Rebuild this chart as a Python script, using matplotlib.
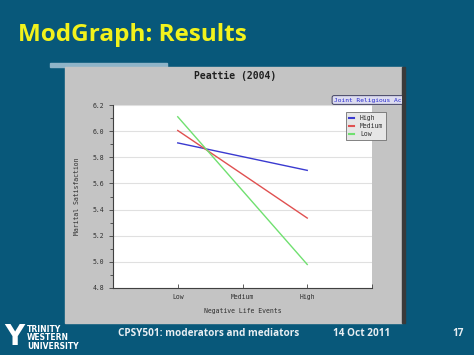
import matplotlib
matplotlib.use("Agg")
import matplotlib.pyplot as plt
from matplotlib.patches import Rectangle

# data
x_labels = ["Low", "Medium", "High"]
high_act = [5.91, 5.805, 5.70]
medium_act = [6.005, 5.67, 5.335]
low_act = [6.11, 5.545, 4.98]
series_names = ["High", "Medium", "Low"]
series_colors = ["#3a3ad0", "#e05050", "#70e070"]

W, H = 474, 355
BG = "#08587a"
PANEL = "#c4c4c4"
MONO = "DejaVu Sans Mono"

def fx(px):
    return px / W

def fy(py):
    return 1 - py / H

fig = plt.figure(figsize=(W / 100, H / 100), dpi=100, facecolor=BG)

# slide decorations (behind the axes)
fig.patches.append(Rectangle((fx(50), fy(67)), fx(167) - fx(50), fy(63) - fy(67),
                             transform=fig.transFigure, color="#8fb4c8", zorder=-10))
fig.patches.append(Rectangle((fx(65), fy(323)), fx(402) - fx(65), fy(67) - fy(323),
                             transform=fig.transFigure, color=PANEL, zorder=-10))
fig.patches.append(Rectangle((fx(402), fy(323)), fx(405) - fx(402), fy(67) - fy(323),
                             transform=fig.transFigure, color="#3a3a3a", zorder=-10))

fig.text(fx(18), fy(35), "ModGraph: Results", color="#f2f21c", fontsize=17.5,
         fontweight="bold", family="Open Sans", va="center", ha="left")

foot = dict(color="#e8eef2", fontsize=7.2, fontweight="bold", family="Open Sans",
            va="center", ha="left")
fig.text(fx(118), fy(333), "CPSY501: moderators and mediators", **foot)
fig.text(fx(333), fy(333), "14 Oct 2011", **foot)
fig.text(fx(452), fy(333), "17", **foot)
fig.text(fx(4), fy(337), "Y", color="white", fontsize=20, fontweight="bold",
         va="center", ha="left")
fig.text(fx(27), fy(338), "TRINITY\nWESTERN\nUNIVERSITY", color="white", fontsize=5.5,
         fontweight="bold", va="center", ha="left", linespacing=0.95)

# chart
ax = fig.add_axes([fx(113), fy(288), fx(372) - fx(113), fy(105) - fy(288)])
ax.set_facecolor("white")
xs = range(len(x_labels))
for vals, name, col in zip([high_act, medium_act, low_act], series_names, series_colors):
    ax.plot(xs, vals, color=col, lw=1.0, label=name)

ax.set_xlim(-1, 3)
ax.set_ylim(4.8, 6.2)
ax.set_xticks(list(xs) + [3])
ax.set_xticklabels(x_labels + [""])
ax.set_yticks([4.8, 5.0, 5.2, 5.4, 5.6, 5.8, 6.0, 6.2])
ax.set_yticks([4.9, 5.1, 5.3, 5.5, 5.7, 5.9, 6.1], minor=True)
ax.yaxis.set_major_formatter(matplotlib.ticker.FormatStrFormatter("%.1f"))
ax.grid(axis="y", color="#e0e0e0", lw=0.8)
ax.set_axisbelow(True)
for s in ["top", "right"]:
    ax.spines[s].set_visible(False)
for s in ["left", "bottom"]:
    ax.spines[s].set_color("#404040")
    ax.spines[s].set_linewidth(0.8)
ax.tick_params(labelsize=4.7, colors="#404040", length=3, width=0.6, direction="out")
ax.tick_params(which="minor", length=2, width=0.6, colors="#404040")
ax.tick_params(axis="x", direction="in", pad=4)
for lab in ax.get_xticklabels() + ax.get_yticklabels():
    lab.set_family(MONO)
    lab.set_color("#303030")

ax.set_xlabel("Negative Life Events", fontsize=4.7, family=MONO, color="#303030", labelpad=6)
ax.set_ylabel("Marital Satisfaction", fontsize=4.7, family=MONO, color="#303030", labelpad=9)
fig.text(fx(235), fy(76), "Peattie (2004)", fontsize=7, family=MONO, fontweight="bold",
         color="#202020", ha="center", va="center")

leg = ax.legend(loc="upper left", bbox_to_anchor=(fx(343), fy(109)),
                bbox_transform=fig.transFigure, fontsize=4.7, handlelength=0.8,
                handletextpad=0.9, borderpad=0.4, labelspacing=0.35,
                fancybox=False, framealpha=1, facecolor="#e6e6e6", edgecolor="#707070")
leg.get_frame().set_linewidth(0.6)
for t in leg.get_texts():
    t.set_family(MONO)
    t.set_color("#303030")
for h in leg.legend_handles:
    h.set_linewidth(1.5)

tab = fig.text(fx(334), fy(100), "Joint Religious Activity", fontsize=4.5, family=MONO,
               color="#2a2ad0", ha="left", va="center",
               bbox=dict(boxstyle="round,pad=0.3", fc="#dcdcf0", ec="#404060", lw=0.7))
clip = Rectangle((0, 0), fx(402), 1, transform=fig.transFigure)
tab.set_clip_path(clip)
tab.get_bbox_patch().set_clip_path(clip)

fig.savefig("out.png", dpi=100, facecolor=BG)
